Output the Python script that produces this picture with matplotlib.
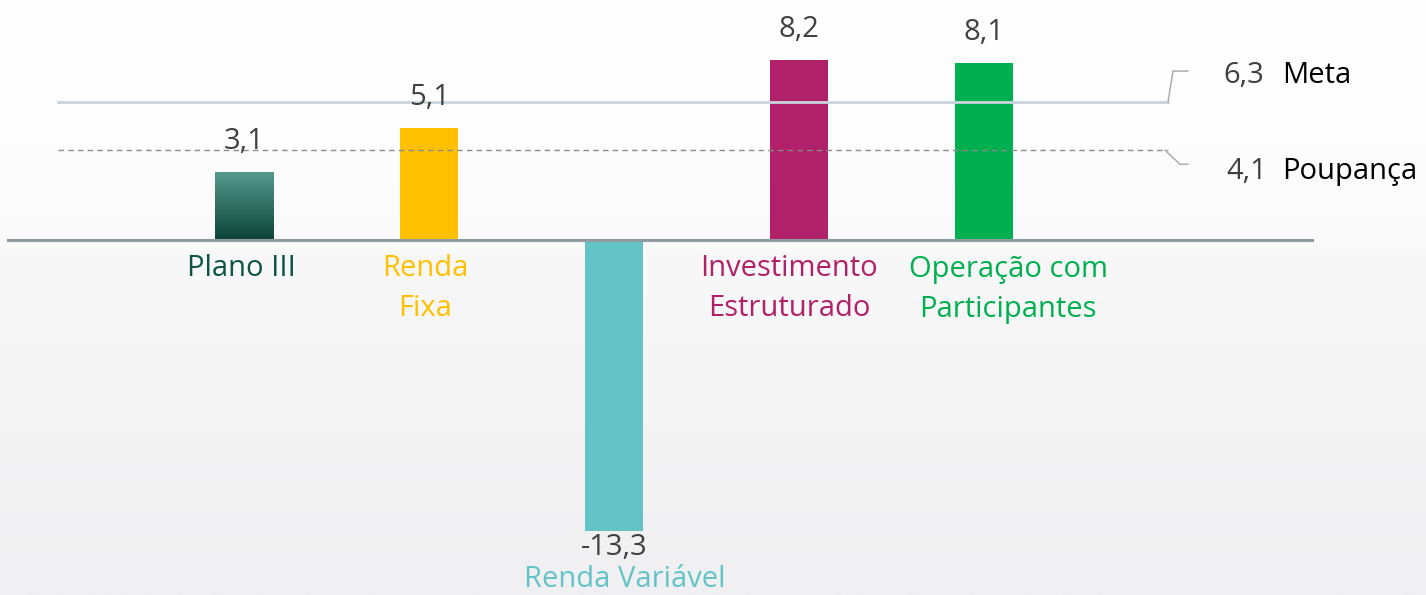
import numpy as np
import matplotlib
matplotlib.use('Agg')
import matplotlib.pyplot as plt
from matplotlib.colors import LinearSegmentedColormap

plt.rcParams['font.family'] = ['Open Sans', 'DejaVu Sans']

# dados
categorias = ['Plano III', 'Renda\nFixa', 'Renda Variável', 'Investimento\nEstruturado', 'Operação com\nParticipantes']
valores = [3.1, 5.1, -13.3, 8.2, 8.1]
rotulos = ['3,1', '5,1', '-13,3', '8,2', '8,1']
cores = ['#2f7a6c', '#ffc000', '#63c3c6', '#b0216a', '#00b050']
cores_texto = ['#0d5445', '#ffc000', '#63c3c6', '#b0216a', '#00b050']
meta = 6.3
poupanca = 4.1
meta_txt = '6,3'
poup_txt = '4,1'

# deslocamento horizontal dos rótulos de categoria (px)
desloc = [-3, -4, 11, -10, 24]

fig = plt.figure(figsize=(14.26, 5.95), dpi=100)

# fundo degradê
bg = fig.add_axes([0, 0, 1, 1])
bg.set_axis_off()
grad = np.linspace(0, 1, 256).reshape(-1, 1)
cm_bg = LinearSegmentedColormap.from_list('bg', [(0, '#ffffff'), (0.25, '#fdfdfe'), (0.42, '#fafafb'), (0.43, '#f8f8f8'), (1, '#f0f0f2')])
bg.imshow(grad, aspect='auto', cmap=cm_bg, extent=[0, 1, 1, 0])
bg.set_xlim(0, 1)
bg.set_ylim(1, 0)

ax = fig.add_axes([0, 0, 1, 1])
ax.patch.set_alpha(0)
ax.set_axis_off()

px_x = 185.0
px_y = 21.9
ax.set_xlim(-244 / px_x, (1426 - 244) / px_x)
ax.set_ylim(-(595 - 240) / px_y, 240 / px_y)

x = np.arange(len(valores))
larg = 58 / px_x
barras = ax.bar(x, valores, width=larg, color=cores, zorder=2)

# gradiente da barra Plano III
b0 = barras[0]
cm_b = LinearSegmentedColormap.from_list('b0', ['#0c4338', '#55998d'])
img = ax.imshow(np.linspace(0, 1, 256).reshape(-1, 1), aspect='auto', cmap=cm_b, origin='lower',
                extent=[b0.get_x(), b0.get_x() + b0.get_width(), 0, valores[0]], zorder=2.1)
img.set_clip_path(b0)

# linha zero
ax.plot([-236 / px_x, 1068 / px_x], [0, 0], color='#919ca1', lw=2.2, zorder=3)

# meta e poupança
x_ini = -186 / px_x
x_fim = 924 / px_x
ax.plot([x_ini, x_fim], [meta, meta], color='#c9d5dc', lw=2, zorder=3)
ax.plot([x_ini, x_fim], [poupanca, poupanca], color='#8c8c8c', lw=1, ls=(0, (4, 3)), zorder=3)
ax.plot([x_fim, 929 / px_x, 944 / px_x], [meta, meta + 31 / px_y, meta + 31 / px_y], color='#a6a6a6', lw=1, zorder=3)
ax.plot([921 / px_x, 936 / px_x, 944 / px_x], [poupanca, poupanca - 14 / px_y, poupanca - 14 / px_y], color='#a6a6a6', lw=1, zorder=3)

fs = 21
ax.text(1244 / px_x - 244 / px_x, meta + 27 / px_y, meta_txt, fontsize=fs, color='#404040', ha='center', va='center')
ax.text(1282 / px_x - 244 / px_x, meta + 27 / px_y, 'Meta', fontsize=fs, color='#000000', ha='left', va='center')
ax.text(1247 / px_x - 244 / px_x, poupanca - 21 / px_y, poup_txt, fontsize=fs, color='#404040', ha='center', va='center')
ax.text(1282 / px_x - 244 / px_x, poupanca - 21 / px_y, 'Poupança', fontsize=fs, color='#000000', ha='left', va='center')

# rótulos de valor
for xi, v, r in zip(x, valores, rotulos):
    if v >= 0:
        ax.annotate(r, (xi, v), xytext=(0, 22), textcoords='offset points', ha='center', va='center',
                    fontsize=fs, color='#404040')
    else:
        ax.annotate(r, (xi, v), xytext=(0, -12), textcoords='offset points', ha='center', va='center',
                    fontsize=fs, color='#404040')

# rótulos de categoria
for xi, v, c, ct, d in zip(x, valores, categorias, cores_texto, desloc):
    base = 0 if v >= 0 else v
    y0 = -29 if v >= 0 else -48
    for k, linha in enumerate(c.split('\n')):
        ax.text(xi + d / px_x, base + (y0 - 40 * k) / px_y, linha, ha='center', va='center',
                fontsize=fs, color=ct)

fig.savefig('out.png', dpi=100)
